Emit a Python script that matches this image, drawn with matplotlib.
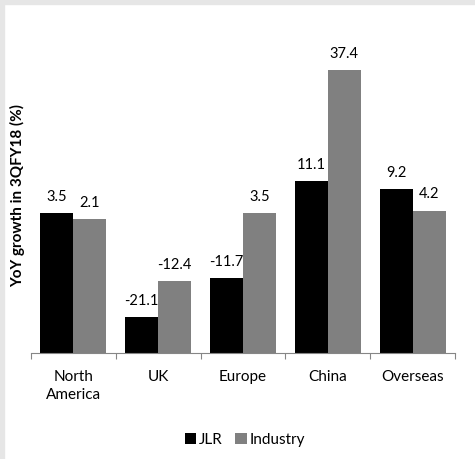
import matplotlib
matplotlib.use("Agg")
import matplotlib.pyplot as plt
from matplotlib.patches import Rectangle
import numpy as np

# dados
regioes = ["North\nAmerica", "UK", "Europe", "China", "Overseas"]
jlr = [3.5, -21.1, -11.7, 11.1, 9.2]
industria = [2.1, -12.4, 3.5, 37.4, 4.2]

plt.rcParams['font.family'] = ['Lato', 'DejaVu Sans']

fig = plt.figure(figsize=(4.75, 4.59), dpi=100)
fig.patch.set_facecolor('white')
# faixas cinzentas no topo e à esquerda
fig.patches.append(Rectangle((0, 0), 4 / 475, 1, transform=fig.transFigure,
                             color='#e6e6e6', zorder=0))
fig.patches.append(Rectangle((0, 1 - 4 / 459), 1, 4 / 459, transform=fig.transFigure,
                             color='#e6e6e6', zorder=0))

ax = fig.add_axes([31 / 475, 106 / 459, 424 / 475, 315 / 459])
base = -29.5
x = np.arange(len(regioes))
w = 0.39

ax.bar(x - w / 2, np.array(jlr) - base, w, bottom=base, color='black', label='JLR')
ax.bar(x + w / 2, np.array(industria) - base, w, bottom=base, color='#808080', label='Industry')

for xi, v in zip(x, jlr):
    ax.annotate(f"{v:.1f}", (xi - w / 2, v), xytext=(0, 6.5), textcoords='offset points',
                ha='center', va='bottom', fontsize=10.5)
for xi, v in zip(x, industria):
    ax.annotate(f"{v:.1f}", (xi + w / 2, v), xytext=(0, 6.5), textcoords='offset points',
                ha='center', va='bottom', fontsize=10.5)

ax.set_xlim(-0.5, len(regioes) - 0.5)
ax.set_ylim(base, 45)
for s in ['top', 'right', 'left']:
    ax.spines[s].set_visible(False)
ax.spines['bottom'].set_color('#868686')
ax.set_yticks([])
ax.set_xticks(np.arange(-0.5, len(regioes), 1))
ax.set_xticklabels([])
ax.set_xticks(x, minor=True)
ax.set_xticklabels(regioes, minor=True, fontsize=11, linespacing=1.35)
ax.tick_params(axis='x', which='major', length=4, color='#868686')
ax.tick_params(axis='x', which='minor', length=0, pad=12)
ax.set_ylabel('YoY growth in 3QFY18 (%)', fontsize=11, fontweight='bold', labelpad=4)

ax.legend(loc='center', bbox_to_anchor=(245 / 475, 1 - 440 / 459), bbox_transform=fig.transFigure,
          ncol=2, frameon=False, fontsize=11, handlelength=0.75, handleheight=0.75,
          handletextpad=0.2, columnspacing=0.8)

fig.savefig('out.png', dpi=100)
